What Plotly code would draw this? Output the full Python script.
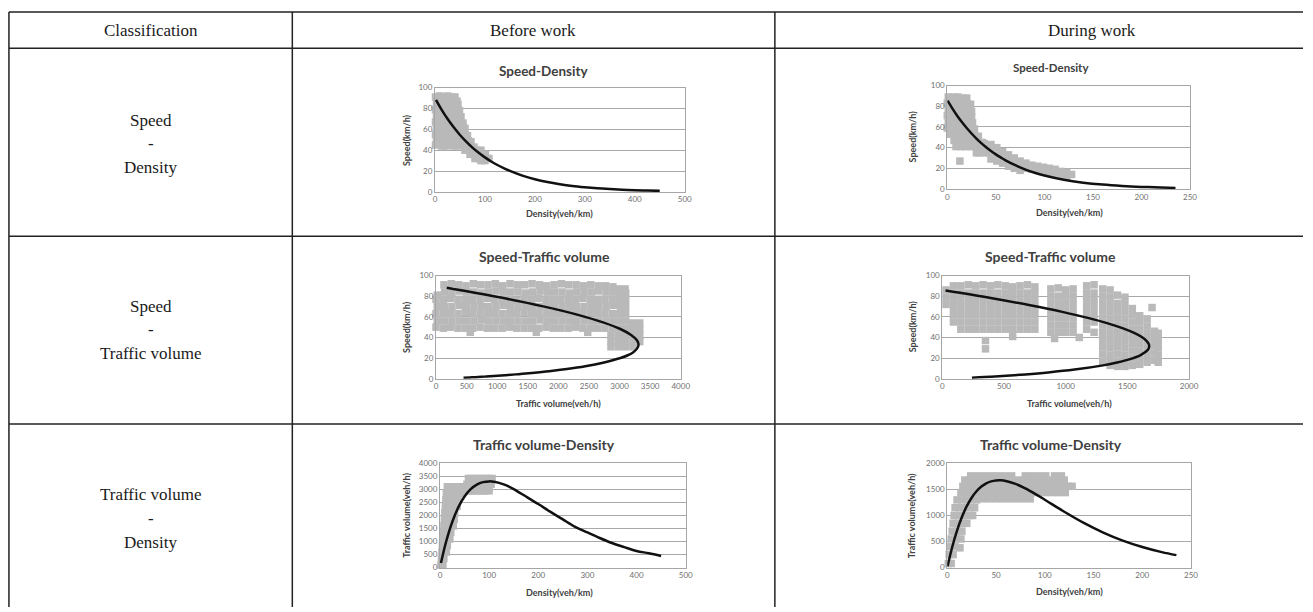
import plotly.graph_objects as go

W, H = 1313, 612

# ---------------- table text ----------------
header_labels = ["Classification", "Before work", "During work"]
row_labels = [["Speed", "-", "Density"],
              ["Speed", "-", "Traffic volume"],
              ["Traffic volume", "-", "Density"]]

# ---------------- fitted curves ----------------
b_curve_density = [2, 12.5, 25, 37.5, 50, 62.5, 75, 87.5, 100, 112.5, 125, 137.5, 150, 175, 200,
                   225, 250, 275, 300, 325, 350, 375, 400, 425, 450]
b_curve_speed = [88.2, 79.4, 70.1, 61.9, 54.6, 48.2, 42.5, 37.5, 33.1, 29.2, 25.8, 22.8, 20.1, 15.6, 12.2,
                 9.5, 7.4, 5.7, 4.5, 3.5, 2.7, 2.1, 1.6, 1.3, 1.0]
b_curve_volume = [176, 993, 1752, 2321, 2730, 3013, 3188, 3281, 3310, 3285, 3225, 3135, 3015, 2730, 2440,
                  2138, 1850, 1568, 1350, 1138, 945, 788, 640, 553, 450]

d_curve_density = [0.3, 5, 10, 15, 20, 25, 30, 35, 40, 45, 50, 55, 60, 70, 80, 90, 100, 120, 140, 160,
                   180, 200, 220, 235]
d_curve_speed = [85.5, 78.3, 71.2, 64.8, 59.0, 53.7, 48.8, 44.4, 40.4, 36.8, 33.5, 30.5, 27.7, 23.0, 19.0,
                 15.7, 13.0, 8.9, 6.1, 4.2, 2.9, 2.0, 1.4, 1.0]
d_curve_volume = [26, 392, 712, 972, 1180, 1342, 1465, 1555, 1617, 1655, 1674, 1676, 1664, 1607, 1521,
                  1416, 1303, 1072, 858, 673, 519, 396, 298, 240]

# ---------------- observed points ----------------
# Before work : Speed-Density
bsd_density = [1, 9, 17, 25, 33, 40,
               44,
               3, 11, 19, 27, 35, 46,
               1, 9, 17, 25, 33, 41, 49,
               3, 11, 19, 27, 35, 43, 52,
               1, 9, 17, 25, 33, 41, 49, 56,
               3, 11, 19, 27, 35, 43, 51, 60,
               1, 9, 17, 25, 33, 41, 49, 57, 65,
               3, 11, 19, 27, 35, 43, 51, 59, 67, 72,
               1, 13, 21, 29, 37, 45, 53, 61, 69, 78,
               60, 68, 76, 84, 92,
               70, 78, 86, 94, 101,
               80, 88, 96, 104, 108,
               92, 100]
bsd_speed = [91, 92, 91, 92, 91, 91,
             87,
             85, 85, 84, 85, 85, 84,
             79, 78, 79, 79, 78, 79, 78,
             73, 73, 72, 73, 73, 73, 72,
             67, 67, 66, 67, 67, 66, 67, 66,
             61, 61, 61, 60, 61, 61, 60, 61,
             55, 55, 54, 55, 55, 55, 54, 55, 54,
             49, 49, 49, 48, 49, 49, 49, 48, 49, 48,
             45, 44, 44, 45, 44, 44, 45, 44, 44, 43,
             40, 40, 40, 40, 40,
             36, 36, 36, 36, 36,
             32, 32, 32, 32, 32,
             30, 30]

# During work : Speed-Density
dsd_density = [1, 6, 11, 16, 20,
               0, 5, 10, 15, 20, 24,
               1, 6, 11, 16, 21, 25,
               0, 5, 10, 15, 20, 25,
               1, 6, 11, 16, 21, 26,
               0, 5, 10, 15, 20, 25, 28,
               3, 8, 13, 18, 23, 28, 32,
               7, 12, 17, 22, 27, 32, 36,
               9, 14, 19, 24, 29, 34, 39,
               13,
               30, 35, 38, 42, 33, 38, 43,
               45, 45, 45, 51, 51, 51, 57, 57, 57, 63, 63, 63, 69, 69, 69, 75, 75, 75,
               81, 81, 87, 87, 93, 93, 99, 99, 105, 105, 111, 111, 117, 117, 123, 123, 128]
dsd_speed = [89, 89, 89, 88, 88,
             83, 83, 83, 83, 83, 82,
             77, 77, 77, 77, 77, 75,
             71, 71, 71, 71, 71, 70,
             65, 65, 65, 65, 65, 64,
             59, 59, 59, 59, 59, 59, 58,
             53, 53, 53, 53, 53, 53, 51,
             47, 47, 47, 47, 47, 46, 45,
             41, 41, 41, 41, 41, 40, 38,
             27,
             35, 40, 44, 42, 35, 35, 35,
             43, 36, 29, 40, 33, 27, 36, 30, 25, 33, 27, 22, 30, 24, 20, 27, 22, 18,
             25, 20, 23, 19, 22, 18, 21, 17, 20, 16, 19, 15, 17, 13, 16, 12, 14]

# Before work : Speed-Traffic volume
bsv_volume = [130, 250, 370, 490, 610, 730, 850, 970, 1090, 1210, 1330, 1450, 1570, 1690, 1810, 1930,
              2050, 2170, 2290, 2410, 2530, 2650, 2770, 2890, 2990, 3090,
              20, 140, 260, 380, 500, 620, 740, 860, 980, 1100, 1220, 1340, 1460, 1580, 1700, 1820,
              1940, 2060, 2180, 2300, 2420, 2540, 2660, 2780, 2900, 3020, 3100,
              0, 120, 240, 360, 480, 600, 720, 840, 960, 1080, 1200, 1320, 1440, 1560, 1680, 1800,
              1920, 2040, 2160, 2280, 2400, 2520, 2640, 2760, 2880, 3000, 3100,
              20, 140, 260, 380, 500, 620, 740, 860, 980, 1100, 1220, 1340, 1460, 1580, 1700, 1820,
              1940, 2060, 2180, 2300, 2420, 2540, 2660, 2780, 2900, 3020, 3100,
              0, 120, 240, 360, 480, 600, 720, 840, 960, 1080, 1200, 1320, 1440, 1560, 1680, 1800,
              1920, 2040, 2160, 2280, 2400, 2520, 2640, 2760, 2880, 3000, 3100,
              20, 140, 260, 380, 500, 620, 740, 860, 980, 1100, 1220, 1340, 1460, 1580, 1700, 1820,
              1940, 2060, 2180, 2300, 2420, 2540, 2660, 2780, 2900, 3020, 3100, 3210, 3330,
              0, 120, 240, 360, 480, 600, 720, 840, 960, 1080, 1200, 1320, 1440, 1560, 1680, 1800,
              1920, 2040, 2160, 2280, 2400, 2520, 2640, 2760, 2880, 3000, 3100, 3210, 3330,
              2860, 2980, 3100, 3220, 3330,
              2860, 2980, 3100, 3220, 3330,
              2860, 2980, 3100, 3220,
              560, 1640, 2480]
bsv_speed = [91, 92, 91, 90, 92, 91, 91, 92, 90, 92, 91, 91, 92, 91, 90, 91,
             92, 91, 91, 90, 91, 90, 90, 89, 87, 87,
             81, 84, 84, 85, 84, 84, 83, 84, 85, 84, 84, 84, 83, 84, 85, 84,
             84, 84, 83, 84, 84, 84, 85, 84, 84, 83, 83,
             77, 77, 78, 77, 77, 77, 77, 78, 77, 77, 77, 76, 77, 77, 78, 77,
             77, 77, 77, 77, 78, 77, 77, 77, 77, 77, 77,
             70, 70, 70, 71, 70, 70, 70, 70, 70, 71, 70, 70, 70, 70, 70, 70,
             71, 70, 70, 70, 70, 70, 70, 70, 71, 70, 70,
             63, 63, 63, 63, 64, 63, 63, 63, 63, 63, 63, 63, 64, 63, 63, 63,
             63, 63, 63, 63, 63, 64, 63, 63, 63, 63, 63,
             56, 56, 56, 56, 56, 56, 57, 56, 56, 56, 56, 56, 56, 56, 57, 56,
             56, 56, 56, 56, 56, 56, 56, 56, 56, 56, 56, 54, 54,
             50, 49, 50, 49, 49, 49, 50, 49, 49, 49, 50, 49, 49, 49, 49, 50,
             49, 49, 49, 50, 49, 49, 49, 49, 49, 49, 49, 48, 48,
             42, 42, 42, 42, 42,
             36, 36, 36, 36, 36,
             31, 31, 31, 31,
             45, 45, 45]

# During work : Speed-Traffic volume
dsv_volume = [30, 30, 30,
              90, 90, 90, 90, 90, 90,
              150, 150, 150, 150, 150, 150, 150,
              210, 210, 210, 210, 210, 210, 210,
              270, 270, 270, 270, 270, 270, 270,
              330, 330, 330, 330, 330, 330, 330,
              390, 390, 390, 390, 390, 390, 390,
              450, 450, 450, 450, 450, 450, 450,
              510, 510, 510, 510, 510, 510, 510,
              570, 570, 570, 570, 570, 570, 570, 570,
              630, 630, 630, 630, 630, 630, 630,
              690, 690, 690, 690, 690, 690, 690,
              750, 750, 750, 750, 750, 750, 750,
              350, 350,
              880, 880, 880, 880, 880, 880, 880,
              940, 940, 940, 940, 940, 940, 940,
              1000, 1000, 1000, 1000, 1000, 1000, 1000,
              1060, 1060, 1060, 1060, 1060, 1060, 1060,
              910, 1110,
              1170, 1170, 1170, 1170, 1170, 1170, 1170,
              1230, 1230, 1230, 1230, 1230, 1230, 1230,
              1300, 1300, 1300, 1300, 1300, 1300, 1300, 1300, 1300, 1300, 1300,
              1360, 1360, 1360, 1360, 1360, 1360, 1360, 1360, 1360, 1360, 1360, 1360,
              1420, 1420, 1420, 1420, 1420, 1420, 1420, 1420, 1420, 1420, 1420,
              1480, 1480, 1480, 1480, 1480, 1480, 1480, 1480, 1480, 1480, 1480,
              1540, 1540, 1540, 1540, 1540, 1540, 1540, 1540, 1540,
              1600, 1600, 1600, 1600, 1600, 1600, 1600, 1600,
              1660, 1660, 1660, 1660, 1660, 1660, 1660,
              1700,
              1720, 1720, 1720, 1720, 1720,
              1750, 1750, 1750, 1750, 1750]
dsv_speed = [86, 79, 72,
             90, 83, 76, 69, 62, 55,
             90, 83, 76, 69, 62, 55, 48,
             91, 83, 76, 69, 62, 55, 48,
             90, 83, 76, 69, 62, 55, 48,
             91, 83, 76, 69, 62, 55, 48,
             90, 83, 76, 69, 62, 55, 48,
             91, 83, 76, 69, 62, 55, 48,
             90, 83, 76, 69, 62, 55, 48,
             89, 83, 76, 69, 62, 55, 48, 41,
             90, 83, 76, 69, 62, 55, 48,
             91, 83, 76, 69, 62, 55, 48,
             89, 83, 76, 69, 62, 55, 48,
             37, 29,
             87, 80, 73, 66, 59, 52, 45,
             88, 80, 73, 66, 59, 52, 45,
             86, 80, 73, 66, 59, 52, 45,
             87, 80, 73, 66, 59, 52, 45,
             39, 40,
             90, 83, 76, 69, 62, 55, 48,
             91, 83, 76, 69, 62, 55, 45,
             87, 80, 73, 66, 59, 52, 45, 38, 31, 24, 17,
             86, 79, 72, 65, 58, 51, 44, 37, 30, 23, 16, 13,
             81, 73, 66, 59, 52, 45, 38, 31, 24, 17, 12,
             79, 72, 65, 58, 51, 44, 37, 30, 23, 16, 12,
             68, 62, 55, 48, 41, 34, 27, 20, 13,
             61, 55, 48, 41, 34, 27, 20, 14,
             58, 51, 44, 37, 30, 23, 16,
             69,
             46, 39, 32, 25, 18,
             44, 37, 30, 23, 16]

# Before work : Traffic volume-Density
bvd_density = [2, 6,
               3, 8,
               4, 9, 13,
               5, 10, 15,
               6, 11, 16, 20,
               7, 12, 17, 22,
               8, 13, 18, 23, 27,
               9, 14, 19, 24, 29,
               10, 15, 20, 25, 30,
               11, 16, 21, 26, 31, 35,
               12, 17, 22, 27, 32, 37,
               13, 18, 23, 28, 33, 38, 43,
               15, 20, 25, 30, 35, 40, 45,
               50, 55, 60, 65, 70, 75, 80, 85, 90, 95, 100,
               55, 62, 69, 76, 83, 90, 97, 104,
               58, 65, 72, 79, 86, 93, 100, 106]
bvd_volume = [100, 100,
              350, 350,
              600, 600, 600,
              850, 850, 850,
              1100, 1100, 1100, 1100,
              1350, 1350, 1350, 1350,
              1600, 1600, 1600, 1600, 1600,
              1850, 1850, 1850, 1850, 1850,
              2100, 2100, 2100, 2100, 2100,
              2350, 2350, 2350, 2350, 2350, 2350,
              2600, 2600, 2600, 2600, 2600, 2600,
              2850, 2850, 2850, 2850, 2850, 2850, 2850,
              3100, 3100, 3100, 3100, 3100, 3100, 3100,
              2950, 2950, 2950, 2950, 2950, 2950, 2950, 2950, 2950, 2950, 2950,
              3200, 3200, 3200, 3200, 3200, 3200, 3200, 3200,
              3420, 3420, 3420, 3420, 3420, 3420, 3420, 3420]

# During work : Traffic volume-Density
dvd_density = [1, 4,
               2, 6,
               3, 8, 13,
               4, 9, 14,
               5, 10, 15,
               6, 11, 16, 20,
               7, 12, 17, 22, 26,
               8, 13, 18, 23, 28,
               10, 15, 20, 25, 30,
               36, 43, 50, 57, 64, 71, 78, 85,
               14, 19, 25, 31, 37, 44, 51, 58, 65, 72, 79, 86, 93, 100, 107, 114, 121,
               16, 21, 27, 33, 40, 47, 54, 61, 68, 75, 82, 89, 96, 103, 110, 117, 124, 128,
               18, 23, 29, 36, 43, 50, 57, 64, 71, 78, 85, 92, 99, 106, 113, 120,
               24, 31, 38, 45, 52, 59, 66, 80, 87, 94, 101, 110, 117]
dvd_volume = [80, 80,
              250, 250,
              400, 400, 380,
              550, 550, 550,
              700, 700, 700,
              850, 850, 850, 850,
              1000, 1000, 1000, 1000, 1000,
              1150, 1150, 1150, 1150, 1150,
              1300, 1300, 1300, 1300, 1300,
              1320, 1320, 1320, 1320, 1320, 1320, 1320, 1320,
              1440, 1440, 1440, 1440, 1440, 1440, 1440, 1440, 1440, 1440, 1440, 1440, 1440, 1440, 1440, 1440, 1440,
              1560, 1560, 1560, 1560, 1560, 1560, 1560, 1560, 1560, 1560, 1560, 1560, 1560, 1560, 1560, 1560, 1560, 1560,
              1680, 1680, 1680, 1680, 1680, 1680, 1680, 1680, 1680, 1680, 1680, 1680, 1680, 1680, 1680, 1680,
              1760, 1760, 1760, 1760, 1760, 1760, 1760, 1760, 1760, 1760, 1760, 1760, 1760]

# ---------------- axis settings ----------------
density_ticks_b = [0, 100, 200, 300, 400, 500]
density_ticks_d = [0, 50, 100, 150, 200, 250]
speed_ticks = [0, 20, 40, 60, 80, 100]
volume_ticks_b = [0, 500, 1000, 1500, 2000, 2500, 3000, 3500, 4000]
volume_ticks_d = [0, 500, 1000, 1500, 2000]

charts = [
    dict(px=bsd_density, py=bsd_speed, cx=b_curve_density, cy=b_curve_speed,
         box=(437, 689, 84, 190), xt=density_ticks_b, yt=speed_ticks,
         title="Speed-Density", tpos=(546, 67), tsize=13.5,
         xtitle="Density(veh/km)", xtpos=(563, 212), ytitle="Speed(km/h)", ytpos=(408, 137)),
    dict(px=dsd_density, py=dsd_speed, cx=d_curve_density, cy=d_curve_speed,
         box=(954, 1199, 82, 187), xt=density_ticks_d, yt=speed_ticks,
         title="Speed-Density", tpos=(1059, 64), tsize=11.5,
         xtitle="Density(veh/km)", xtpos=(1077, 211), ytitle="Speed(km/h)", ytpos=(919, 134)),
    dict(px=bsv_volume, py=bsv_speed, cx=b_curve_volume, cy=b_curve_speed,
         box=(438, 685, 275, 380), xt=volume_ticks_b, yt=speed_ticks,
         title="Speed-Traffic volume", tpos=(547, 256), tsize=14,
         xtitle="Traffic volume(veh/h)", xtpos=(562, 405), ytitle="Speed(km/h)", ytpos=(408, 327)),
    dict(px=dsv_volume, py=dsv_speed, cx=d_curve_volume, cy=d_curve_speed,
         box=(949, 1198, 275, 380), xt=volume_ticks_d, yt=speed_ticks,
         title="Speed-Traffic volume", tpos=(1058, 256), tsize=14,
         xtitle="Traffic volume(veh/h)", xtpos=(1077, 405), ytitle="Speed(km/h)", ytpos=(919, 327)),
    dict(px=bvd_density, py=bvd_volume, cx=b_curve_density, cy=b_curve_volume,
         box=(442, 690, 466, 572), xt=density_ticks_b, yt=[0, 500, 1000, 1500, 2000, 2500, 3000, 3500, 4000],
         title="Traffic volume-Density", tpos=(547, 447), tsize=14,
         xtitle="Density(veh/km)", xtpos=(563, 597), ytitle="Traffic volume(veh/h)", ytpos=(408, 519)),
    dict(px=dvd_density, py=dvd_volume, cx=d_curve_density, cy=d_curve_volume,
         box=(954, 1200, 466, 572), xt=density_ticks_d, yt=volume_ticks_d,
         title="Traffic volume-Density", tpos=(1059, 447), tsize=14,
         xtitle="Density(veh/km)", xtpos=(1077, 596), ytitle="Traffic volume(veh/h)", ytpos=(918, 519)),
]


def fx(p):
    return p / W


def fy(p):
    return 1 - p / H


fig = go.Figure()
annotations = []
layout_axes = {}
FONT = "Lato"

for i, c in enumerate(charts, start=1):
    sfx = "" if i == 1 else str(i)
    xa, ya = "x" + sfx, "y" + sfx
    fig.add_trace(go.Scatter(x=c["px"], y=c["py"], mode="markers", xaxis=xa, yaxis=ya,
                             marker=dict(symbol="square", size=7.5, color="#b9b9b9", line=dict(width=0)),
                             cliponaxis=False, showlegend=False, hoverinfo="skip"))
    fig.add_trace(go.Scatter(x=c["cx"], y=c["cy"], mode="lines", xaxis=xa, yaxis=ya,
                             line=dict(color="#111111", width=2.5, shape="spline"),
                             cliponaxis=False, showlegend=False, hoverinfo="skip"))
    x0, x1, y0, y1 = c["box"]
    common = dict(showline=True, mirror=True, linecolor="#a6a6a6", linewidth=1, zeroline=False,
                  ticks="", tickfont=dict(family=FONT, size=8, color="#707070"), fixedrange=True)
    layout_axes["xaxis" + sfx] = dict(domain=[fx(x0), fx(x1)], anchor=ya, range=[c["xt"][0], c["xt"][-1]],
                                      tickvals=c["xt"], showgrid=False, **common)
    layout_axes["yaxis" + sfx] = dict(domain=[fy(y1), fy(y0)], anchor=xa, range=[c["yt"][0], c["yt"][-1]],
                                      tickvals=c["yt"], showgrid=True, gridcolor="#a9a9a9", gridwidth=1, **common)
    annotations.append(dict(text="<b>%s</b>" % c["title"], x=fx(c["tpos"][0]), y=fy(c["tpos"][1]),
                            xref="paper", yref="paper", xanchor="center", yanchor="middle", showarrow=False,
                            font=dict(family=FONT, size=c["tsize"], color="#404040")))
    annotations.append(dict(text="<b>%s</b>" % c["xtitle"], x=fx(c["xtpos"][0]), y=fy(c["xtpos"][1]),
                            xref="paper", yref="paper", xanchor="center", yanchor="middle", showarrow=False,
                            font=dict(family=FONT, size=9, color="#404040")))
    annotations.append(dict(text="<b>%s</b>" % c["ytitle"], x=fx(c["ytpos"][0]), y=fy(c["ytpos"][1]),
                            xref="paper", yref="paper", xanchor="center", yanchor="middle", showarrow=False,
                            textangle=-90, font=dict(family=FONT, size=9, color="#404040")))

# ---------------- table ----------------
col_x = [7, 293, 780]
col_centers = [150, 536, 1100]
row_y = [7, 44, 235, 426]
shapes = []
for y in row_y:
    shapes.append(dict(type="line", xref="paper", yref="paper", x0=fx(7), x1=1, y0=fy(y), y1=fy(y),
                       line=dict(color="#222222", width=1.5)))
for x in col_x:
    shapes.append(dict(type="line", xref="paper", yref="paper", x0=fx(x), x1=fx(x), y0=fy(7), y1=0,
                       line=dict(color="#222222", width=1.5)))

TFONT = dict(family="Liberation Serif", size=17, color="#1a1a1a")
for cx, lab in zip(col_centers, header_labels):
    annotations.append(dict(text=lab, x=fx(cx), y=fy(26), xref="paper", yref="paper", xanchor="center",
                            yanchor="middle", showarrow=False, font=TFONT))
row_mid = [141, 330, 522]
for mid, lines in zip(row_mid, row_labels):
    for j, t in enumerate(lines):
        annotations.append(dict(text=t, x=fx(col_centers[0]), y=fy(mid + (j - 1) * 24), xref="paper",
                                yref="paper", xanchor="center", yanchor="middle", showarrow=False, font=TFONT))

fig.update_layout(width=W, height=H, margin=dict(l=0, r=0, t=0, b=0), paper_bgcolor="white",
                  plot_bgcolor="white", showlegend=False, annotations=annotations, shapes=shapes,
                  **layout_axes)
fig.write_html("out.html", config={"displayModeBar": False},
               post_script="document.body.style.margin='0';document.body.style.overflow='hidden';")
